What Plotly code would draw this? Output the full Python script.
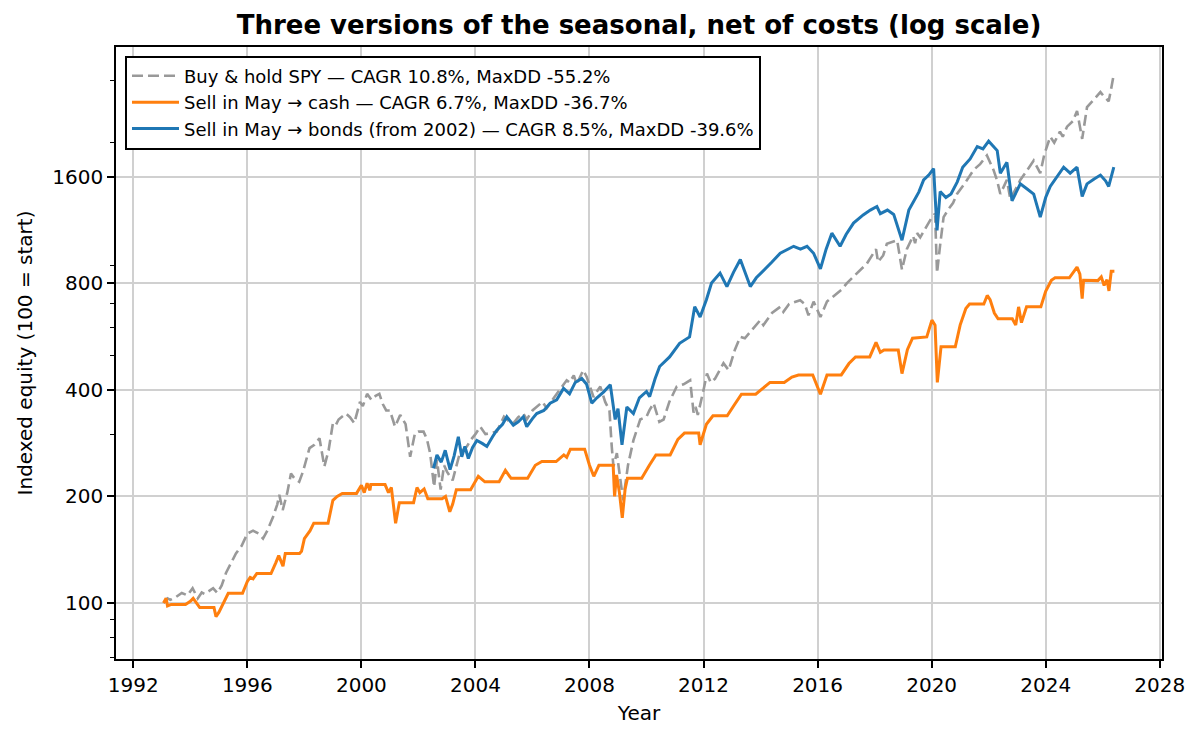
import plotly.graph_objects as go

# ---------------- data (decimal year, indexed equity) ----------------
spy_t = [1993.06, 1993.2, 1993.3, 1993.5, 1993.7, 1993.9, 1994.08, 1994.26, 1994.4, 1994.5,
         1994.65, 1994.8, 1994.95, 1995.1, 1995.25, 1995.45, 1995.6, 1995.8, 1996.0, 1996.2,
         1996.4, 1996.55, 1996.7, 1996.9, 1997.05, 1997.12, 1997.24, 1997.4, 1997.53, 1997.65,
         1997.82, 1997.95, 1998.18, 1998.35, 1998.53, 1998.7, 1998.85, 1999.0, 1999.1, 1999.2,
         1999.46, 1999.6, 1999.75, 1999.95, 2000.05, 2000.2, 2000.35, 2000.5, 2000.63, 2000.75,
         2000.87, 2001.0, 2001.18, 2001.36, 2001.55, 2001.71, 2001.88, 2002.0, 2002.18, 2002.3,
         2002.41, 2002.55, 2002.65, 2002.78, 2002.9, 2003.0, 2003.2, 2003.45, 2003.7, 2003.85,
         2004.0, 2004.17, 2004.35, 2004.52, 2004.75, 2005.0, 2005.3, 2005.5, 2005.68, 2005.8,
         2006.0, 2006.35, 2006.5, 2006.7, 2006.9, 2007.2, 2007.3, 2007.45, 2007.55, 2007.78,
         2007.9, 2008.14, 2008.25, 2008.38, 2008.55, 2008.7, 2008.78, 2008.84, 2008.96, 2009.05,
         2009.18, 2009.35, 2009.54, 2009.78, 2010.0, 2010.1, 2010.25, 2010.35, 2010.45, 2010.6,
         2010.8, 2011.06, 2011.3, 2011.53, 2011.65, 2011.72, 2011.8, 2012.0, 2012.12, 2012.25,
         2012.4, 2012.7, 2012.88, 2013.1, 2013.29, 2013.45, 2013.7, 2013.99, 2014.1, 2014.4,
         2014.69, 2014.8, 2015.0, 2015.39, 2015.55, 2015.68, 2015.86, 2016.1, 2016.33, 2016.6,
         2016.85, 2017.03, 2017.4, 2017.73, 2018.05, 2018.12, 2018.3, 2018.43, 2018.79, 2018.96,
         2019.13, 2019.35, 2019.42, 2019.49, 2019.6, 2019.8, 2020.01, 2020.12, 2020.19, 2020.3,
         2020.42, 2020.6, 2020.75, 2020.89, 2021.2, 2021.47, 2021.7, 2021.94, 2022.17, 2022.3,
         2022.41, 2022.64, 2022.76, 2022.95, 2023.11, 2023.3, 2023.58, 2023.81, 2023.95, 2024.16,
         2024.3, 2024.5, 2024.6, 2024.75, 2024.95, 2025.1, 2025.28, 2025.45, 2025.7, 2025.92,
         2026.05, 2026.21, 2026.3, 2026.39]
spy_v = [100, 103, 102, 104, 106.7, 105, 110, 103, 107, 106,
         108, 110, 106.7, 112, 121.5, 130, 138, 145, 157, 160,
         157, 152, 160, 175, 190, 202, 183, 205, 232, 225,
         220, 235, 274, 280, 292, 243, 270, 322, 318, 330,
         343, 335, 322, 370, 360, 390, 375, 385, 390, 365,
         350, 350, 315, 340, 320, 259, 302, 305, 305, 290,
         265, 213, 254, 209, 245, 235, 222, 265, 277, 290,
         300, 315, 300, 302, 305, 336, 320, 335, 343, 330,
         350, 370, 355, 375, 395, 426, 420, 440, 415, 455,
         436, 382, 395, 409, 370, 350, 277, 243, 265, 230,
         195, 245, 288, 330, 336, 350, 367, 345, 325, 330,
         370, 409, 415, 426, 345, 358, 340, 400, 445, 420,
         430, 476, 455, 520, 565, 560, 590, 630, 610, 660,
         687, 665, 700, 717, 700, 650, 711, 643, 711, 740,
         770, 802, 860, 911, 1000, 920, 960, 1036, 1060, 875,
         1000, 1090, 1040, 1110, 1080, 1150, 1232, 1260, 856, 1030,
         1232, 1300, 1350, 1432, 1550, 1675, 1740, 1840, 1675, 1560,
         1432, 1570, 1385, 1480, 1570, 1650, 1780, 1640, 1850, 2080,
         2000, 2150, 2080, 2220, 2300, 2460, 2050, 2520, 2650, 2780,
         2700, 2620, 2850, 3130]

cash_t = [1993.06, 1993.15, 1993.2, 1993.33, 1993.83, 1994.0, 1994.1, 1994.2, 1994.33, 1994.83,
          1994.9, 1995.0, 1995.15, 1995.33, 1995.83, 1996.0, 1996.1, 1996.2, 1996.33, 1996.83,
          1997.0, 1997.1, 1997.25, 1997.33, 1997.83, 1997.9, 1998.0, 1998.2, 1998.33, 1998.83,
          1999.0, 1999.15, 1999.33, 1999.83, 2000.0, 2000.1, 2000.2, 2000.3, 2000.33, 2000.83,
          2000.95, 2001.05, 2001.2, 2001.33, 2001.83, 2001.95, 2002.05, 2002.2, 2002.33, 2002.83,
          2002.95, 2003.1, 2003.2, 2003.33, 2003.83, 2004.1, 2004.33, 2004.83, 2005.05, 2005.25,
          2005.33, 2005.83, 2006.1, 2006.33, 2006.83, 2007.1, 2007.2, 2007.33, 2007.83, 2008.0,
          2008.15, 2008.33, 2008.83, 2008.88, 2008.95, 2009.05, 2009.15, 2009.25, 2009.33, 2009.83,
          2010.1, 2010.33, 2010.83, 2011.1, 2011.33, 2011.83, 2011.88, 2012.1, 2012.33, 2012.83,
          2013.1, 2013.33, 2013.83, 2014.1, 2014.33, 2014.83, 2015.1, 2015.33, 2015.83, 2016.1,
          2016.33, 2016.83, 2017.1, 2017.33, 2017.83, 2018.05, 2018.2, 2018.33, 2018.83, 2018.96,
          2019.15, 2019.33, 2019.83, 2020.01, 2020.12, 2020.2, 2020.28, 2020.33, 2020.83, 2021.0,
          2021.2, 2021.33, 2021.83, 2021.95, 2022.05, 2022.2, 2022.33, 2022.83, 2022.95, 2023.05,
          2023.15, 2023.33, 2023.83, 2024.0, 2024.2, 2024.33, 2024.83, 2025.0, 2025.1, 2025.2,
          2025.28, 2025.33, 2025.83, 2025.95, 2026.05, 2026.15, 2026.22, 2026.3, 2026.41]
cash_v = [100, 103, 98, 99, 99, 101, 103, 100, 97, 97,
          91.5, 94, 100, 106.5, 106.5, 115, 118, 117, 121, 121,
          130, 136, 127, 138, 138, 140, 152, 160, 168, 168,
          195, 200, 204, 204, 215, 205, 218, 208, 216, 216,
          205, 212, 168, 192, 192, 212, 205, 210, 197, 197,
          200, 181, 190, 209, 209, 228, 220, 220, 237, 225,
          225, 225, 245, 251, 251, 262, 258, 272, 272, 245,
          228, 245, 245, 200, 230, 205, 174, 210, 225, 225,
          245, 262, 262, 290, 302, 302, 280, 320, 338, 338,
          365, 389, 389, 405, 420, 420, 435, 441, 441, 389,
          441, 441, 475, 496, 496, 545, 511, 519, 519, 445,
          520, 560, 565, 630, 610, 420, 480, 530, 530, 610,
          680, 700, 700, 740, 720, 660, 636, 636, 610, 687,
          620, 687, 687, 760, 817, 830, 830, 870, 890, 850,
          725, 817, 815, 835, 790, 820, 762, 866, 866]

bond_t = [2002.53, 2002.6, 2002.65, 2002.8, 2002.94, 2003.11, 2003.25, 2003.4, 2003.52, 2003.63,
          2003.75, 2003.9, 2004.05, 2004.25, 2004.4, 2004.6, 2004.75, 2004.95, 2005.1, 2005.33,
          2005.5, 2005.68, 2005.8, 2006.0, 2006.15, 2006.4, 2006.62, 2006.85, 2007.09, 2007.3,
          2007.5, 2007.73, 2007.9, 2008.08, 2008.26, 2008.5, 2008.73, 2008.9, 2009.0, 2009.14,
          2009.31, 2009.54, 2009.75, 2010.0, 2010.11, 2010.3, 2010.46, 2010.81, 2011.16, 2011.51,
          2011.69, 2011.88, 2012.1, 2012.28, 2012.58, 2012.82, 2013.05, 2013.29, 2013.64, 2013.85,
          2014.11, 2014.4, 2014.69, 2014.95, 2015.16, 2015.4, 2015.63, 2015.86, 2016.1, 2016.3,
          2016.5, 2016.79, 2017.0, 2017.26, 2017.6, 2017.85, 2018.08, 2018.2, 2018.45, 2018.67,
          2018.96, 2019.2, 2019.37, 2019.55, 2019.72, 2019.9, 2020.07, 2020.19, 2020.3, 2020.5,
          2020.68, 2020.9, 2021.09, 2021.35, 2021.6, 2021.8, 2022.0, 2022.3, 2022.41, 2022.64,
          2022.82, 2023.11, 2023.35, 2023.58, 2023.81, 2024.0, 2024.16, 2024.4, 2024.63, 2024.86,
          2025.1, 2025.28, 2025.45, 2025.7, 2025.92, 2026.1, 2026.21, 2026.39]
bond_v = [240, 255, 262, 250, 270, 238, 260, 295, 259, 277,
          256, 275, 288, 282, 277, 295, 308, 320, 336, 318,
          325, 336, 315, 332, 343, 350, 367, 375, 404, 390,
          420, 431, 415, 367, 380, 395, 414, 330, 354, 280,
          358, 343, 380, 396, 383, 430, 466, 496, 542, 565,
          688, 643, 720, 802, 856, 784, 860, 935, 784, 830,
          870, 920, 974, 1000, 1019, 1000, 1019, 974, 880, 1000,
          1110, 1019, 1100, 1185, 1250, 1290, 1320, 1260, 1290, 1254,
          1060, 1290, 1370, 1450, 1570, 1620, 1690, 1130, 1455, 1400,
          1432, 1550, 1705, 1800, 1950, 1920, 2020, 1900, 1640, 1760,
          1370, 1530, 1480, 1432, 1232, 1400, 1505, 1600, 1705, 1640,
          1705, 1410, 1530, 1580, 1620, 1560, 1505, 1705]

names = ["Buy & hold SPY — CAGR 10.8%, MaxDD -55.2%",
         "Sell in May → cash — CAGR 6.7%, MaxDD -36.7%",
         "Sell in May → bonds (from 2002) — CAGR 8.5%, MaxDD -39.6%"]

x_ticks = [1992, 1996, 2000, 2004, 2008, 2012, 2016, 2020, 2024, 2028]
y_ticks = [100, 200, 400, 800, 1600]
y_minor = [70, 80, 90, 300, 500, 600, 700, 900, 2000, 3000]

FONT = "DejaVu Sans"

fig = go.Figure()
fig.add_trace(go.Scatter(x=spy_t, y=spy_v, mode="lines", name=names[0], legendgroup="a",
                         line=dict(color="#999999", width=2.6, dash="11px,5px")))
fig.add_trace(go.Scatter(x=cash_t, y=cash_v, mode="lines", name=names[1], legendgroup="b",
                         line=dict(color="#ff7f0e", width=3)))
fig.add_trace(go.Scatter(x=bond_t, y=bond_v, mode="lines", name=names[2], legendgroup="c",
                         line=dict(color="#1f77b4", width=3)))

axis_common = dict(showline=True, linecolor="black", linewidth=1.7, mirror=True,
                   ticks="outside", ticklen=7, tickwidth=1.7, tickcolor="black",
                   showgrid=True, gridcolor="#d0d0d0", gridwidth=1.5, zeroline=False,
                   tickfont=dict(family=FONT, size=20, color="black"))

fig.update_layout(
    width=1202, height=741,
    margin=dict(l=116, r=40, t=47, b=82),
    paper_bgcolor="white", plot_bgcolor="white",
    font=dict(family=FONT, color="black"),
    title=dict(text="<b>Three versions of the seasonal, net of costs (log scale)</b>",
               x=0.5, xref="paper", xanchor="center", y=1 - 25 / 741, yref="container",
               yanchor="middle", font=dict(family=FONT, size=26, color="black")),
    xaxis=dict(range=[1991.393, 2028.08], tickmode="array", tickvals=x_ticks,
               ticktext=[str(v) for v in x_ticks],
               title=dict(text="Year", font=dict(family=FONT, size=20, color="black"), standoff=10),
               **axis_common),
    yaxis=dict(type="log", range=[1.8414, 3.5716], tickmode="array", tickvals=y_ticks,
               ticktext=[str(v) for v in y_ticks],
               title=dict(text="Indexed equity (100 = start)",
                          font=dict(family=FONT, size=20, color="black"), standoff=14),
               minor=dict(tickmode="array", tickvals=y_minor, ticks="outside", ticklen=4,
                          tickwidth=1.2, tickcolor="black", showgrid=False),
               **axis_common),
    legend=dict(x=0.0086, y=0.986, xanchor="left", yanchor="top",
                bgcolor="white", bordercolor="black", borderwidth=2,
                font=dict(family=FONT, size=18, color="black"),
                itemwidth=47, tracegroupgap=0),
    showlegend=True,
)

fig.write_html("out.html", config={"displayModeBar": False})
